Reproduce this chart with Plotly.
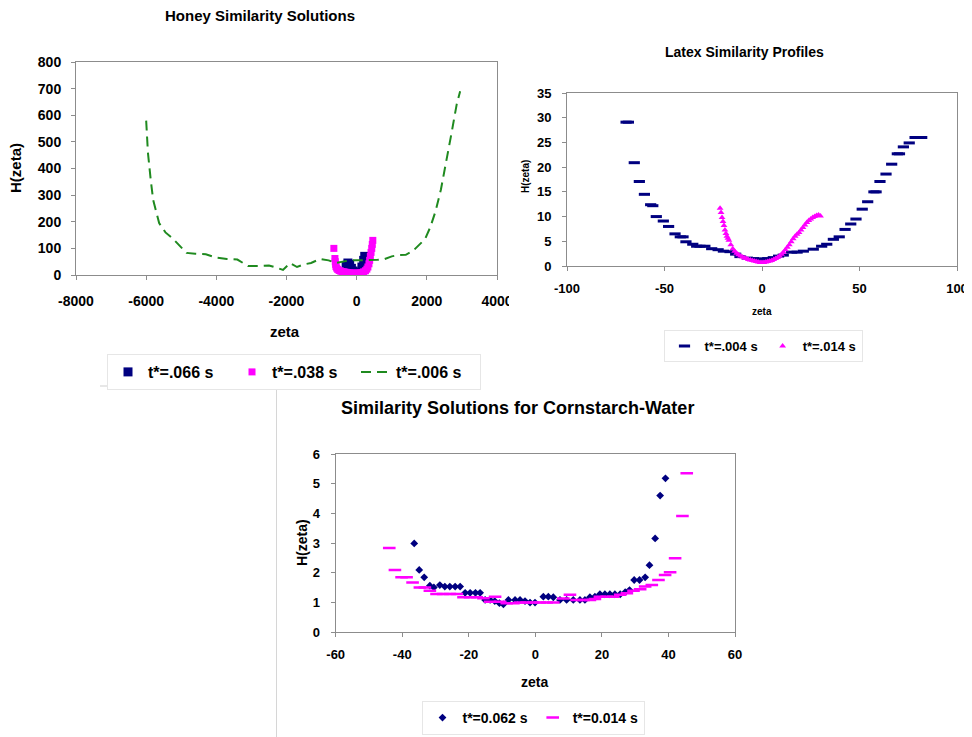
import plotly.graph_objects as go

# page body adds an 8px margin, so the figure is drawn 8px in from the window corner
OFF = 8
SCREEN_W, SCREEN_H = 972, 737
W, H = SCREEN_W, SCREEN_H - OFF
NAVY = "#000080"
MAG = "#FF00FF"
GREEN = "#1f8a1f"
AXC = "#8c8c8c"
FONT = "Liberation Sans, Arial, sans-serif"

# ---------------- Honey data ----------------
honey_066_x = [-300, -250, -200, -150, -100, -50, 0, 50, 100, 150, 200, 230]
honey_066_h = [35, 45, 40, 25, 15, 8, 4, 4, 10, 30, 55, 70]

honey_038_x = [-650, -620, -610, -600, -590, -570, -540, -500, -460, -420, -380, -340, -300, -250, -200, -150,
               -100, -50, 0, 50, 100, 150, 200, 250, 290, 320, 350, 370, 390, 410, 430, 445, 460]
honey_038_h = [100, 62, 50, 40, 32, 26, 21, 17, 15, 13, 12, 11, 10, 9, 8, 7,
               7, 7, 7, 7, 8, 9, 12, 16, 22, 30, 42, 55, 70, 85, 100, 115, 130]

honey_006_x = [-6000, -5950, -5870, -5800, -5630, -5450, -5250, -5050, -4850, -4600, -4300, -4000, -3700,
               -3400, -3100, -2800, -2500, -2300, -2100, -1900, -1700, -1500, -1300, -1050, -800, -600, -400,
               -200, 0, 200, 400, 600, 800, 1000, 1200, 1400, 1600, 1800, 1950, 2100, 2250, 2400, 2550, 2700,
               2850, 2950]
honey_006_h = [580, 460, 357, 282, 195, 160, 138, 110, 83, 80, 78, 65, 60,
               58, 34, 34, 36, 28, 19, 45, 30, 40, 45, 60, 55, 45, 50,
               55, 55, 55, 56, 57, 60, 70, 75, 76, 90, 115, 135, 180, 240, 320, 420, 530,
               640, 690]

honey_xticks = [-8000, -6000, -4000, -2000, 0, 2000, 4000]
honey_xlabels = ["-8000", "-6000", "-4000", "-2000", "0", "2000", "4000"]
honey_yticks = [0, 100, 200, 300, 400, 500, 600, 700, 800]

# ---------------- Latex data ----------------
latex_004_x = [-69.7, -68.5, -65.5, -62.9, -60.3, -57.1, -56.0, -54.2, -50.6, -47.9, -44.6, -41.9, -40.5,
               -39.0, -35.5, -33.5, -31.8, -29.3, -25.8, -22.5, -19.8, -16.4, -13.5, -11.3, -7.5, -4.4, -2.0,
               0.7, 3.0, 5.8, 8.5, 10.9, 15.2, 18.0, 21.2, 26.3, 30.6, 33.2, 36.6, 39.6, 42.6, 45.5, 48.2,
               51.4, 54.2, 57.4, 58.5, 60.5, 63.6, 66.5, 69.4, 70.5, 72.5, 75.5, 78.5, 80.5, 81.9]
latex_004_h = [29.1, 29.1, 20.9, 17.1, 14.5, 12.4, 12.2, 10.0, 9.1, 8.0, 6.5, 5.9, 5.9,
               4.9, 4.4, 4.0, 4.0, 4.0, 3.5, 3.3, 3.0, 2.9, 2.4, 1.9, 1.6, 1.5, 1.4,
               1.4, 1.5, 1.7, 2.0, 2.2, 2.8, 2.8, 3.0, 3.4, 4.0, 4.4, 5.4, 5.9, 7.4, 8.5, 9.5,
               11.5, 13.0, 15.0, 15.0, 17.1, 18.6, 20.6, 22.7, 22.7, 24.1, 24.9, 26.0, 26.0, 26.0]

latex_014_x = [-21.5, -21, -20.5, -20, -19.5, -19, -18.5, -18, -17.5, -17, -16, -15, -14, -13, -12, -11, -10,
               -9, -8, -7, -6, -5, -4, -3, -2, -1, 0, 1, 2, 3, 4, 5, 6, 7, 8, 9, 10, 11, 12, 13, 14, 15, 16,
               17, 18, 19, 20, 21, 22, 23, 24, 25, 26, 27, 28, 29, 30]
latex_014_h = [11.7, 10.8, 9.8, 9.0, 8.2, 7.3, 6.6, 6.0, 5.6, 5.2, 4.3, 3.5, 3.0, 2.6, 2.3, 2.0, 1.8,
               1.6, 1.5, 1.3, 1.2, 1.1, 1.0, 0.9, 0.8, 0.7, 0.7, 0.7, 0.8, 0.9, 1.0, 1.1, 1.3, 1.5, 1.7, 2.0,
               2.4, 2.8, 3.3, 3.8, 4.3, 4.9, 5.5, 6.0, 6.4, 6.8, 7.3, 7.8, 8.3, 8.8, 9.2, 9.5, 9.8, 10.0,
               10.2, 10.3, 10.1]

latex_xticks = [-100, -50, 0, 50, 100]
latex_xlabels = ["-100", "-50", "0", "50", "100"]
latex_yticks = [0, 5, 10, 15, 20, 25, 30, 35]

# ---------------- Cornstarch data ----------------
corn_062_x = [-36.4, -34.9, -33.4, -31.7, -30.5, -28.7, -27.2, -25.7, -24.1, -22.6, -21.1, -19.6, -18.0,
              -16.6, -15.1, -13.6, -12.2, -10.8, -9.6, -8.1, -6.1, -4.6, -3.1, -1.6, -0.1, 2.4, 3.9, 5.4,
              7.4, 9.4, 11.4, 13.4, 14.9, 16.4, 17.9, 19.4, 20.9, 22.4, 23.9, 25.5, 27.0, 28.3, 29.7, 31.3,
              33.0, 34.3, 36.0, 37.5, 39.1]
corn_062_h = [2.99, 2.10, 1.85, 1.57, 1.51, 1.59, 1.54, 1.54, 1.54, 1.54, 1.33, 1.33, 1.33,
              1.33, 1.09, 1.09, 1.05, 0.98, 0.94, 1.09, 1.09, 1.09, 1.05, 1.0, 1.0, 1.2, 1.2, 1.18,
              1.09, 1.09, 1.09, 1.09, 1.09, 1.18, 1.2, 1.28, 1.28, 1.28, 1.28, 1.28, 1.35, 1.42, 1.76, 1.76,
              1.85, 2.26, 3.16, 4.6, 5.18]

corn_014_x = [-43.9, -42.2, -40.2, -38.7, -36.9, -34.7, -33.2, -31.7, -29.7, -27.7, -25.7, -23.6, -21.6,
              -19.6, -17.6, -15.6, -13.6, -12.1, -10.6, -8.6, -6.6, -4.6, -2.6, -0.6, 1.4, 3.4, 5.4, 8.4,
              10.4, 12.4, 14.4, 16.4, 17.9, 19.4, 21.4, 23.4, 25.5, 27.5, 29.5, 31.5, 33.0, 35.0, 37.0, 39.0,
              40.5, 42.0, 44.2, 45.5]
corn_014_h = [2.84, 2.10, 1.85, 1.85, 1.68, 1.51, 1.51, 1.40, 1.29, 1.29, 1.29, 1.29, 1.18,
              1.18, 1.18, 1.15, 1.03, 1.2, 1.03, 0.98, 0.98, 1.0, 1.0, 1.0, 1.0, 1.0, 1.0, 1.14,
              1.26, 1.09, 1.09, 1.09, 1.12, 1.2, 1.2, 1.2, 1.26, 1.31, 1.40, 1.45, 1.54, 1.59, 1.76, 1.93,
              2.02, 2.49, 3.91, 5.35]

corn_xticks = [-60, -40, -20, 0, 20, 40, 60]
corn_xlabels = ["-60", "-40", "-20", "0", "20", "40", "60"]
corn_yticks = [0, 1, 2, 3, 4, 5, 6]


def px(x):
    """screen pixel x -> paper fraction"""
    return (x - OFF) / W


def py(y):
    """screen pixel y -> paper fraction"""
    return 1 - (y - OFF) / H


fig = go.Figure()

# Honey
fig.add_trace(go.Scatter(x=honey_066_x, y=honey_066_h, mode="markers", name="t*=.066 s",
                         marker=dict(symbol="square", size=9, color=NAVY),
                         xaxis="x", yaxis="y", legend="legend"))
fig.add_trace(go.Scatter(x=honey_038_x, y=honey_038_h, mode="markers", name="t*=.038 s",
                         marker=dict(symbol="square", size=7, color=MAG),
                         xaxis="x", yaxis="y", legend="legend"))
fig.add_trace(go.Scatter(x=honey_006_x, y=honey_006_h, mode="lines", name="t*=.006 s",
                         line=dict(color=GREEN, width=2, dash="10px,6px"),
                         xaxis="x", yaxis="y", legend="legend"))

# Latex
fig.add_trace(go.Scatter(x=latex_004_x, y=latex_004_h, mode="markers", name="t*=.004 s",
                         marker=dict(symbol="line-ew", size=8, color=NAVY, line=dict(width=3, color=NAVY)),
                         xaxis="x2", yaxis="y2", legend="legend2"))
fig.add_trace(go.Scatter(x=latex_014_x, y=latex_014_h, mode="markers", name="t*=.014 s",
                         marker=dict(symbol="triangle-up", size=6, color=MAG),
                         xaxis="x2", yaxis="y2", legend="legend2"))

# Cornstarch
fig.add_trace(go.Scatter(x=corn_062_x, y=corn_062_h, mode="markers", name="t*=0.062 s",
                         marker=dict(symbol="diamond", size=6, color=NAVY),
                         xaxis="x3", yaxis="y3", legend="legend3"))
fig.add_trace(go.Scatter(x=corn_014_x, y=corn_014_h, mode="markers", name="t*=0.014 s",
                         marker=dict(symbol="line-ew", size=9, color=MAG, line=dict(width=2.5, color=MAG)),
                         xaxis="x3", yaxis="y3", legend="legend3"))


def axis_style(size, standoff):
    return dict(showline=True, mirror=True, linecolor=AXC, linewidth=1, ticks="outside", ticklen=4,
                tickcolor=AXC, showgrid=False, zeroline=False, automargin=False,
                tickfont=dict(family=FONT, size=size, color="black", weight="bold"),
                ticklabelstandoff=standoff)


layout = dict(
    width=W, height=H, margin=dict(l=0, r=0, t=0, b=0, autoexpand=False),
    paper_bgcolor="white", plot_bgcolor="white",
    font=dict(family=FONT, color="black"),
    xaxis=dict(domain=[px(76), px(497)], range=[-8000, 4000], anchor="y",
               tickvals=honey_xticks, ticktext=honey_xlabels, **axis_style(14, 9)),
    yaxis=dict(domain=[py(275), py(62)], range=[0, 800], anchor="x",
               tickvals=honey_yticks, **axis_style(14, 7)),
    xaxis2=dict(domain=[px(567), px(957)], range=[-100, 100], anchor="y2",
                tickvals=latex_xticks, ticktext=latex_xlabels, **axis_style(13, 6)),
    yaxis2=dict(domain=[py(266), py(93)], range=[0, 35], anchor="x2",
                tickvals=latex_yticks, **axis_style(13, 8)),
    xaxis3=dict(domain=[px(335.7), px(735)], range=[-60, 60], anchor="y3",
                tickvals=corn_xticks, ticktext=corn_xlabels, **axis_style(13, 6)),
    yaxis3=dict(domain=[py(632.3), py(454)], range=[0, 6], anchor="x3",
                tickvals=corn_yticks, **axis_style(13, 8)),
    legend=dict(orientation="h", x=px(107), y=py(372), xanchor="left", yanchor="middle",
                font=dict(family=FONT, size=16, weight="bold"), bgcolor="white",
                bordercolor="#e6e6e6", borderwidth=1, itemwidth=30,
                entrywidth=79, entrywidthmode="pixels"),
    legend2=dict(orientation="h", x=px(763), y=py(346), xanchor="center", yanchor="middle",
                 font=dict(family=FONT, size=13, weight="bold"), bgcolor="white",
                 bordercolor="#e6e6e6", borderwidth=1, itemwidth=30),
    legend3=dict(orientation="h", x=px(533), y=py(718), xanchor="center", yanchor="middle",
                 font=dict(family=FONT, size=14, weight="bold"), bgcolor="white",
                 bordercolor="#e6e6e6", borderwidth=1, itemwidth=30),
    showlegend=True,
)
fig.update_layout(**layout)

ann = [
    ("Honey Similarity Solutions", 260, 15, 15, 0),
    ("H(zeta)", 16, 168, 15, -90),
    ("zeta", 285, 331, 15, 0),
    ("Latex Similarity Profiles", 744, 52, 14, 0),
    ("H(zeta)", 525, 177, 10, -90),
    ("zeta", 762, 312, 10, 0),
    ("Similarity Solutions for Cornstarch-Water", 517, 408, 18, 0),
    ("H(zeta)", 302, 543, 14, -90),
    ("zeta", 534, 682, 14, 0),
]
for text, x, y, s, ang in ann:
    fig.add_annotation(text=text, x=px(x), y=py(y), xref="paper", yref="paper", showarrow=False,
                       xanchor="center", yanchor="middle", textangle=ang,
                       font=dict(family=FONT, size=s, color="black", weight="bold"))

# faint chart-area borders
fig.add_shape(type="line", xref="paper", yref="paper", x0=px(100), x1=px(272), y0=py(386), y1=py(386),
              line=dict(color="#cfcfcf", width=1))
fig.add_shape(type="line", xref="paper", yref="paper", x0=px(276.5), x1=px(276.5), y0=py(388), y1=py(737),
              line=dict(color="#d6d6d6", width=1))
# latex chart area covering end of honey "4000" label
fig.add_shape(type="rect", xref="paper", yref="paper", x0=px(509), x1=px(530), y0=py(315), y1=py(290),
              fillcolor="white", line=dict(width=0), layer="above")

fig.write_html("out.html")
